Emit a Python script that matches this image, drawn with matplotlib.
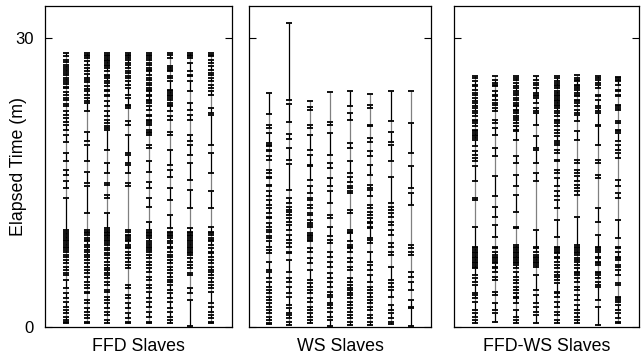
import matplotlib
matplotlib.use("Agg")
import matplotlib.pyplot as plt

plt.rcParams['font.family'] = ['Liberation Sans', 'DejaVu Sans']

panel_titles = ["FFD Slaves", "WS Slaves", "FFD-WS Slaves"]
y_label = "Elapsed Time (m)"
y_ticks = [0, 30]

# Task boundary times (minutes) for each of 8 slaves, per scheduling strategy
ffd_slaves = [
    [28.4, 28.1, 27.7, 27.5, 27.2, 27.0, 26.8, 26.6, 26.3, 26.1, 25.8, 25.6, 25.4, 25.2, 24.9, 24.8, 24.4, 24.1,
     23.8, 23.6, 23.1, 22.9, 22.4, 22.0, 21.7, 21.3, 21.0, 20.4, 19.9, 19.2, 18.0, 17.2, 16.3, 15.8, 15.1, 14.4,
     13.4, 10.08, 9.9, 9.63, 9.39, 9.21, 9.04, 8.87, 8.7, 8.52, 8.35, 8.18, 8.0, 7.83, 7.48, 7.31, 6.96, 6.62,
     6.27, 5.93, 5.58, 5.41, 4.89, 4.02, 3.5, 2.99, 2.64, 2.12, 1.77, 1.43, 1.08, 0.74, 0.56, 0.4],
    [28.4, 28.24, 28.07, 27.9, 27.55, 27.2, 26.86, 26.58, 26.24, 25.82, 25.65, 25.4, 24.96, 24.71, 24.44, 24.1,
     23.76, 23.4, 23.23, 22.36, 20.28, 19.25, 18.9, 17.17, 16.13, 14.92, 14.58, 11.81, 10.08, 9.9, 9.73, 9.56,
     9.28, 9.04, 8.87, 8.52, 8.35, 8.0, 7.83, 7.48, 7.31, 6.96, 6.62, 6.27, 5.93, 5.58, 5.23, 4.72, 4.37, 4.02,
     3.68, 3.5, 2.81, 2.47, 1.95, 1.6, 1.26, 0.91, 0.56, 0.39],
    [28.4, 28.24, 28.07, 27.9, 27.72, 27.55, 27.38, 27.2, 27.03, 26.86, 26.51, 26.17, 26.0, 25.82, 25.48, 25.3,
     24.96, 24.61, 24.44, 24.09, 23.92, 23.4, 22.88, 22.36, 21.84, 21.5, 21.15, 20.8, 20.63, 20.46, 18.38, 17.0,
     15.96, 14.92, 14.75, 13.71, 13.37, 11.81, 10.25, 10.08, 9.9, 9.73, 9.56, 9.39, 9.21, 9.04, 8.87, 8.7, 8.52,
     8.18, 8.0, 7.66, 7.48, 7.14, 6.79, 6.45, 6.1, 5.93, 5.58, 5.41, 5.06, 4.72, 4.37, 3.85, 3.68, 3.16, 2.81,
     2.47, 1.95, 1.6, 1.26, 0.74, 0.39],
    [28.4, 28.24, 28.07, 27.9, 27.72, 27.38, 27.2, 26.86, 26.51, 26.34, 26.0, 25.82, 25.48, 25.13, 24.78, 24.09,
     23.74, 23.05, 22.88, 22.71, 21.32, 20.98, 19.94, 18.03, 17.86, 17.0, 16.82, 15.96, 14.92, 14.58, 10.08, 9.9,
     9.56, 9.39, 9.21, 9.04, 8.87, 8.52, 8.35, 8.18, 7.83, 7.48, 7.14, 6.79, 6.45, 6.1, 4.37, 4.02, 3.33, 2.99,
     2.47, 1.95, 1.43, 0.91, 0.56, 0.4],
    [28.4, 28.24, 28.07, 27.9, 27.72, 27.38, 27.2, 26.86, 26.68, 26.51, 26.17, 25.82, 25.65, 25.3, 25.13, 24.78,
     24.61, 24.44, 24.09, 23.92, 23.57, 23.4, 23.23, 22.88, 22.53, 22.01, 21.84, 21.5, 21.32, 21.15, 20.98,
     20.46, 20.28, 20.11, 19.94, 18.9, 18.55, 17.17, 16.13, 15.09, 14.4, 13.37, 12.5, 10.94, 10.08, 9.9, 9.73,
     9.56, 9.39, 9.21, 8.87, 8.7, 8.52, 8.35, 8.18, 8.0, 7.83, 7.48, 7.14, 6.79, 6.45, 6.1, 5.75, 5.23, 4.89,
     4.37, 4.02, 3.68, 2.99, 2.64, 2.12, 1.6, 1.08, 0.56, 0.4],
    [28.4, 28.24, 27.9, 27.03, 26.86, 26.68, 26.51, 25.99, 25.82, 25.48, 24.61, 24.44, 24.26, 24.09, 23.92,
     23.74, 23.57, 23.23, 23.05, 22.88, 22.36, 21.84, 21.5, 20.28, 19.94, 18.38, 16.82, 16.3, 15.61, 14.4, 13.19,
     11.64, 10.25, 9.9, 9.73, 9.56, 9.39, 9.21, 8.87, 8.7, 8.35, 8.18, 7.83, 7.48, 7.31, 6.96, 6.62, 6.27, 5.93,
     5.58, 5.23, 4.89, 4.72, 4.37, 3.85, 3.5, 2.99, 2.64, 1.95, 1.6, 1.08, 0.74, 0.4],
    [28.4, 28.24, 28.07, 27.9, 27.38, 26.51, 26.17, 25.99, 25.48, 24.44, 23.23, 22.53, 22.01, 21.5, 19.94, 19.25,
     18.9, 17.86, 17.0, 15.27, 14.23, 12.33, 10.25, 9.9, 9.73, 9.56, 9.39, 9.21, 9.04, 8.87, 8.7, 8.52, 8.35,
     8.18, 8.0, 7.83, 7.66, 7.48, 7.14, 6.79, 6.45, 6.1, 5.58, 5.41, 4.02, 3.5, 2.81, 0.15],
    [28.4, 28.24, 28.07, 27.72, 27.38, 27.03, 26.68, 26.34, 26.17, 25.82, 25.48, 25.13, 24.78, 24.44, 24.09,
     22.71, 22.19, 22.01, 18.9, 18.03, 15.96, 14.06, 12.33, 10.42, 9.9, 9.73, 9.56, 9.21, 9.04, 8.87, 8.52, 8.18,
     7.83, 7.66, 7.31, 6.96, 6.62, 6.27, 5.93, 5.75, 5.41, 5.06, 4.72, 4.37, 4.02, 3.68, 2.47, 2.12, 1.6, 1.26,
     0.91, 0.56, 0.4],
]

ws_slaves = [
    [24.26, 22.08, 20.98, 20.63, 20.11, 19.07, 18.9, 18.73, 18.38, 18.21, 17.69, 17.34, 16.31, 15.96, 15.61,
     15.44, 14.75, 14.58, 14.06, 13.54, 13.19, 12.67, 12.33, 11.81, 11.46, 11.29, 10.77, 10.42, 10.08, 9.9,
     9.39, 9.21, 8.87, 8.35, 8.0, 7.66, 6.79, 5.93, 5.75, 5.06, 4.72, 4.2, 3.85, 3.5, 3.16, 2.81, 2.47, 2.12,
     1.77, 1.43, 1.08, 0.74, 0.39, 0.28],
    [31.5, 23.57, 23.12, 21.25, 20.01, 19.52, 18.56, 17.34, 16.9, 14.23, 13.37, 12.85, 12.5, 12.15, 11.98,
     11.64, 11.29, 10.94, 10.6, 10.08, 9.56, 9.04, 8.7, 8.35, 7.83, 7.66, 6.96, 5.75, 5.06, 4.72, 4.2, 3.5,
     3.16, 2.29, 1.95, 1.43, 1.26, 0.91, 0.56, 0.22],
    [23.47, 22.78, 22.53, 20.98, 20.63, 19.94, 18.38, 17.86, 16.83, 16.65, 15.27, 14.58, 13.88, 13.37, 13.19,
     12.67, 12.33, 11.81, 11.64, 11.12, 10.77, 10.6, 10.42, 9.73, 9.56, 9.39, 9.21, 9.04, 8.87, 8.18, 7.83,
     7.14, 6.62, 5.93, 4.89, 4.54, 4.2, 3.85, 3.5, 2.99, 2.64, 2.12, 1.77, 1.43, 1.08, 0.74, 0.39],
    [24.37, 21.25, 20.98, 20.11, 17.86, 17.0, 16.48, 15.44, 14.58, 14.06, 12.85, 11.64, 11.29, 10.42, 9.39,
     9.04, 8.7, 7.83, 7.31, 6.79, 6.27, 5.58, 5.06, 4.72, 4.2, 3.68, 3.33, 3.16, 2.47, 2.29, 1.95, 1.6, 1.08,
     0.74, 0.14],
    [24.44, 22.88, 22.19, 21.5, 19.07, 18.62, 17.17, 15.96, 15.61, 15.09, 14.58, 14.4, 14.06, 13.88, 12.15,
     11.81, 10.08, 9.9, 9.73, 8.87, 8.52, 8.35, 8.18, 7.83, 7.14, 6.79, 6.27, 5.93, 5.06, 4.72, 4.37, 4.02,
     3.85, 3.5, 3.33, 2.99, 2.64, 2.29, 1.95, 1.6, 1.26, 0.91, 0.56, 0.22],
    [24.16, 23.05, 22.71, 20.98, 20.8, 19.59, 19.18, 18.21, 17.69, 16.83, 15.79, 14.75, 14.4, 14.23, 13.54,
     12.67, 12.33, 11.98, 11.64, 11.29, 10.94, 10.77, 10.42, 10.25, 9.21, 9.04, 8.7, 7.83, 6.79, 6.45, 5.93,
     5.41, 4.72, 4.2, 3.85, 3.5, 3.16, 2.81, 2.47, 2.12, 1.77, 1.26, 0.91, 0.56, 0.22],
    [24.51, 21.32, 20.28, 19.18, 18.83, 17.17, 15.61, 12.85, 12.5, 12.15, 11.81, 11.46, 10.94, 10.6, 10.08,
     9.56, 8.7, 8.35, 7.83, 7.48, 6.27, 4.89, 4.54, 4.2, 3.85, 3.16, 2.29, 1.77, 1.43, 0.91, 0.56, 0.3],
    [24.44, 21.15, 18.04, 16.65, 14.4, 13.88, 12.67, 8.52, 8.18, 7.83, 7.48, 5.75, 5.23, 4.72, 3.85, 2.81,
     2.12, 1.95, 0.13],
]

ffdws_slaves = [
    [26.0, 25.82, 25.48, 25.13, 24.96, 24.61, 24.27, 24.1, 23.75, 23.4, 23.23, 22.88, 22.71, 22.36, 22.19,
     21.85, 21.5, 21.33, 21.15, 20.81, 20.46, 20.29, 20.12, 19.94, 19.77, 19.6, 19.42, 18.73, 18.21, 17.87,
     17.52, 17.17, 16.66, 15.1, 13.37, 13.19, 10.42, 8.35, 8.18, 8.0, 7.83, 7.66, 7.48, 7.31, 7.14, 6.96,
     6.79, 6.62, 6.44, 6.27, 6.1, 5.41, 5.06, 4.71, 4.37, 3.5, 3.33, 2.98, 2.64, 1.77, 1.43, 1.08, 0.73, 0.39],
    [26.0, 25.65, 25.31, 25.13, 24.96, 24.44, 24.1, 23.92, 23.58, 23.23, 23.06, 22.71, 22.36, 21.5, 21.15,
     20.63, 19.94, 18.56, 17.69, 15.62, 13.54, 12.5, 11.46, 10.6, 9.38, 8.35, 8.17, 7.83, 7.48, 7.31, 7.14,
     6.96, 6.79, 6.62, 6.27, 6.1, 5.75, 5.23, 4.89, 3.67, 3.33, 2.46, 1.77, 1.43, 0.56],
    [26.0, 25.82, 25.65, 25.31, 24.96, 24.79, 24.44, 24.27, 24.1, 23.75, 23.58, 23.23, 23.06, 22.88, 22.54,
     22.36, 22.19, 21.85, 21.67, 21.5, 21.15, 20.81, 20.46, 20.29, 19.42, 17.69, 17.0, 15.79, 14.58, 13.71,
     11.98, 10.42, 10.25, 8.52, 8.35, 8.17, 8.0, 7.83, 7.66, 7.48, 7.31, 7.14, 6.96, 6.79, 6.62, 6.44, 6.1,
     5.75, 5.23, 4.89, 4.54, 4.2, 3.85, 3.5, 3.16, 2.98, 2.46, 1.77, 1.08, 0.73, 0.39],
    [26.07, 25.65, 25.31, 25.13, 24.79, 24.27, 24.1, 23.92, 23.75, 23.23, 22.71, 22.36, 22.19, 20.98, 19.77,
     18.56, 18.39, 17.0, 15.96, 15.1, 10.08, 8.35, 8.17, 7.83, 7.48, 7.31, 7.14, 6.96, 6.79, 6.62, 6.44, 6.27,
     5.41, 3.85, 3.33, 2.46, 2.12, 1.6, 1.25, 0.39],
    [26.0, 25.82, 25.48, 25.31, 25.13, 24.96, 24.79, 24.44, 24.27, 24.1, 23.92, 23.75, 23.58, 23.4, 23.23,
     23.06, 22.88, 22.71, 22.36, 22.19, 21.85, 21.5, 21.33, 21.15, 20.81, 20.46, 20.12, 19.77, 19.25, 19.08,
     18.9, 18.39, 18.04, 17.35, 17.17, 16.31, 15.96, 15.44, 14.58, 14.06, 13.54, 13.19, 12.33, 11.12, 9.38,
     8.35, 8.17, 8.0, 7.83, 7.66, 7.31, 7.14, 6.79, 6.44, 6.1, 5.75, 5.41, 5.23, 4.89, 4.54, 3.67, 3.5, 3.16,
     2.64, 2.12, 1.6, 1.25, 0.73, 0.39],
    [26.1, 25.82, 25.65, 25.48, 25.13, 24.96, 24.79, 24.61, 24.27, 24.1, 23.92, 23.58, 23.4, 23.23, 22.88,
     22.54, 22.19, 22.02, 21.33, 20.29, 19.42, 17.35, 17.0, 16.31, 15.96, 15.62, 15.1, 14.75, 14.41, 14.06,
     13.71, 11.46, 8.52, 8.35, 8.17, 8.0, 7.83, 7.66, 7.48, 7.14, 6.96, 6.79, 6.44, 6.1, 5.75, 5.58, 5.41,
     5.06, 4.71, 4.2, 3.85, 3.33, 2.81, 2.29, 1.77, 1.43, 1.08, 0.73, 0.39],
    [26.07, 25.82, 25.65, 25.31, 25.13, 24.79, 24.1, 23.92, 23.58, 22.88, 22.71, 22.36, 22.19, 20.98, 20.81,
     18.9, 17.35, 17.0, 15.79, 15.44, 12.33, 10.94, 9.56, 8.35, 8.17, 8.0, 7.83, 7.31, 7.14, 6.79, 6.62, 6.44,
     5.75, 5.58, 5.41, 5.06, 4.71, 4.37, 4.2, 2.81, 2.12, 0.22],
    [25.9, 25.82, 25.65, 25.48, 25.13, 24.61, 24.44, 24.1, 23.92, 23.06, 22.88, 22.71, 22.54, 21.33, 21.15,
     20.46, 20.29, 20.12, 19.25, 18.9, 18.39, 18.04, 17.52, 15.27, 14.58, 13.88, 13.36, 11.12, 9.21, 8.35,
     8.17, 7.83, 7.31, 7.14, 6.96, 6.44, 6.27, 5.92, 5.41, 4.54, 4.37, 3.16, 2.98, 2.81, 2.64, 2.29, 1.77,
     1.43, 0.91, 0.56, 0.39],
]

panels = [ffd_slaves, ws_slaves, ffdws_slaves]

W, H = 641, 357
fig = plt.figure(figsize=(W / 100, H / 100), dpi=100)
bottom = (H - 327) / H
height = (327 - 6) / H
boxes = [(45, 232), (249, 431), (454, 639)]

seg_colors = ['#000000', '#808080']

for k, (slaves, title, (l, r)) in enumerate(zip(panels, panel_titles, boxes)):
    ax = fig.add_axes([l / W, bottom, (r - l) / W, height])
    for i, times in enumerate(slaves):
        x = i + 1
        t = sorted(times)
        xs, y0s, y1s, cs = [], [], [], []
        for j in range(len(t) - 1):
            xs.append(x)
            y0s.append(t[j])
            y1s.append(t[j + 1])
            cs.append(seg_colors[j % 2])
        ax.vlines(xs, y0s, y1s, colors=cs, linewidth=0.9)
        ax.plot([x] * len(t), t, linestyle='none', marker='_', markersize=4.5,
                markeredgewidth=1.3, color='black')
    ax.set_xlim(0, 9)
    ax.set_ylim(0, 33.3)
    ax.set_xticks([])
    ax.set_yticks(y_ticks)
    ax.tick_params(axis='y', direction='in', length=5, width=0.8, right=True,
                   labelsize=12, pad=8, labelleft=(k == 0))
    for sp in ax.spines.values():
        sp.set_linewidth(0.9)
        sp.set_color('black')
    ax.set_xlabel(title, fontsize=12.8, labelpad=8)
    if k == 0:
        ax.set_ylabel(y_label, fontsize=12.8)
        ax.yaxis.set_label_coords(-0.098, 0.5)

fig.savefig("out.png", dpi=100)
